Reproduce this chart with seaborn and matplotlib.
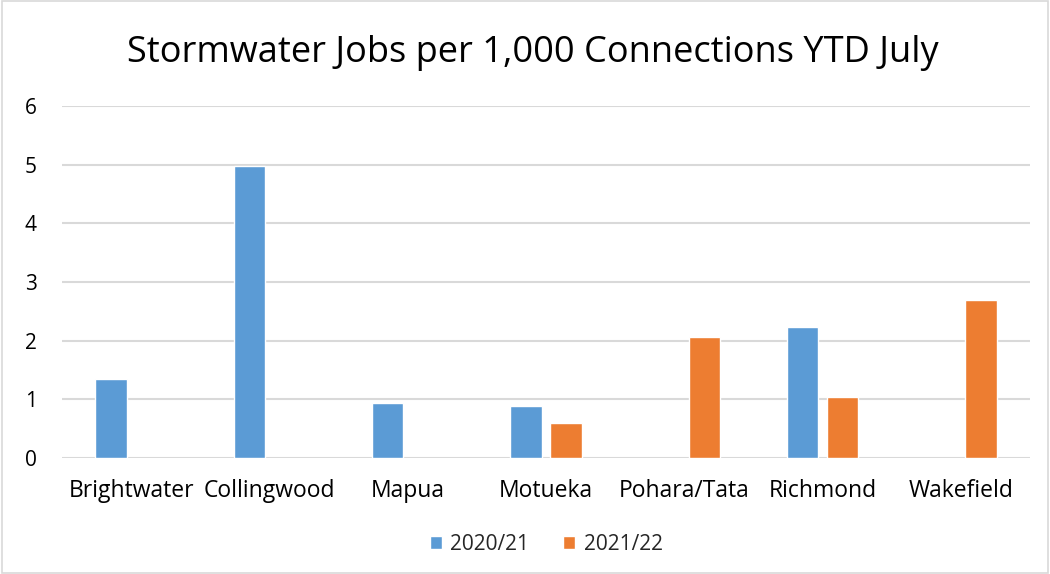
import numpy as np
import pandas as pd
import matplotlib
matplotlib.use('Agg')
import matplotlib.pyplot as plt
import seaborn as sns

# Data
towns = ['Brightwater', 'Collingwood', 'Mapua', 'Motueka', 'Pohara/Tata', 'Richmond', 'Wakefield']
years = ['2020/21', '2021/22']
jobs_2021 = [1.35, 4.98, 0.94, 0.89, np.nan, 2.23, np.nan]
jobs_2122 = [np.nan, np.nan, np.nan, 0.59, 2.07, 1.04, 2.70]
yticks = [0, 1, 2, 3, 4, 5, 6]

df = pd.DataFrame({
    'town': towns * 2,
    'year': [years[0]] * len(towns) + [years[1]] * len(towns),
    'jobs': jobs_2021 + jobs_2122,
})

sns.set_style('white')
plt.rcParams['font.family'] = ['Open Sans', 'DejaVu Sans']

fig = plt.figure(figsize=(10.5, 5.74), dpi=100)
ax = fig.add_axes([0.059, 0.202, 0.922, 0.613])

sns.barplot(data=df, x='town', y='jobs', hue='year', order=towns, hue_order=years,
            palette=['#5B9BD5', '#ED7D31'], saturation=1, width=0.58, gap=0.22, ax=ax)

# Grid
ax.set_ylim(0, 6)
ax.set_yticks(yticks)
ax.yaxis.grid(True, color='#d9d9d9', linewidth=1.5)
ax.set_axisbelow(True)
for s in ax.spines.values():
    s.set_visible(False)
ax.tick_params(axis='both', length=0, labelsize=15, colors='black')
ax.tick_params(axis='x', labelsize=16.5, pad=15)
ax.tick_params(axis='y', pad=18)
ax.set_xlabel('')
ax.set_ylabel('')
ax.set_xlim(-0.5, len(towns) - 0.5)

fig.text(0.507, 0.908, 'Stormwater Jobs per 1,000 Connections YTD July', ha='center', va='center',
         fontsize=26, color='black')

ax.legend(loc='center', bbox_to_anchor=(0.5, -0.245), ncol=2, frameon=False, fontsize=15,
          handlelength=0.6, handleheight=0.6, columnspacing=1.6, handletextpad=0.4)

# Outer border
fig.patches.append(plt.Rectangle((0.002, 0.002), 0.996, 0.996, transform=fig.transFigure,
                                 fill=False, edgecolor='#d9d9d9', linewidth=1.2))

plt.savefig('out.png', dpi=100)
